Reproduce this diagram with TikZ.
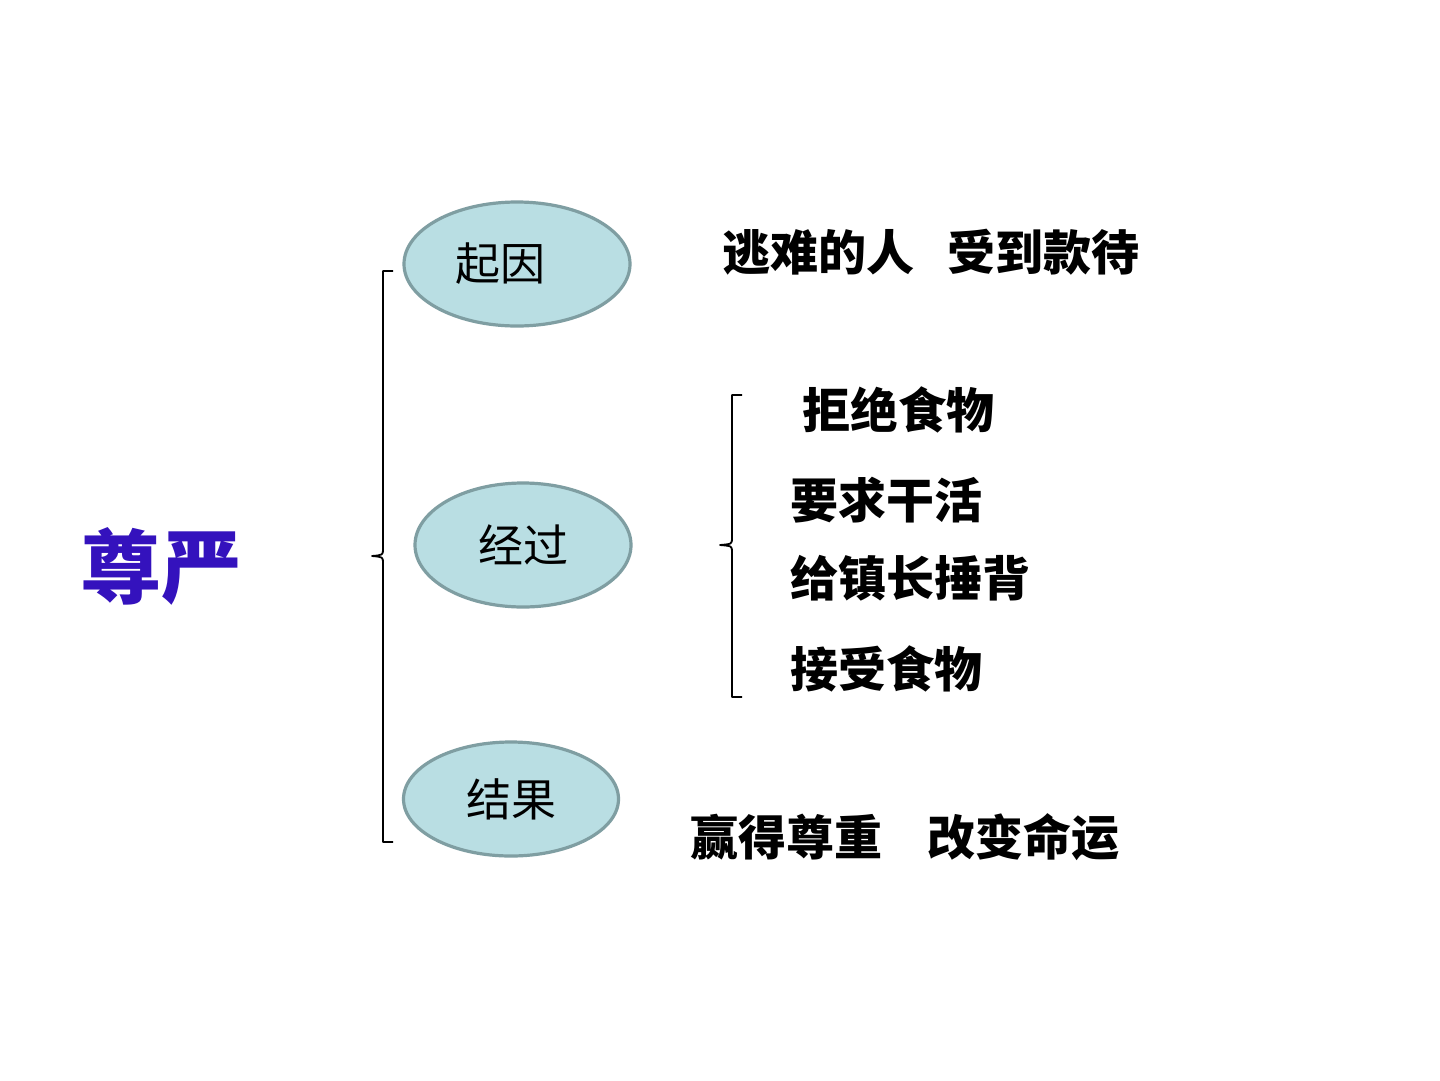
\documentclass[tikz,border=0pt]{standalone}
\usepackage{fontspec}
\usetikzlibrary{shapes.geometric}
\newfontfamily\cjk{Noto Sans CJK SC}
\definecolor{ellfill}{HTML}{B9DEE3}
\definecolor{elldraw}{HTML}{7F9EA2}
\definecolor{titleblue}{HTML}{3412BD}
\begin{document}
\begin{tikzpicture}[x=1pt,y=-1pt,
  phase/.style={ellipse,draw=elldraw,line width=3.2pt,fill=ellfill,inner sep=0pt,
     font=\cjk\fontsize{45}{50}\selectfont},
  item/.style={anchor=west,inner sep=0pt,font=\cjk\bfseries\fontsize{48}{54}\selectfont},
  bracket/.style={line width=1.8pt,line join=round}]
\useasboundingbox (0,0) rectangle (1440,1080);
\fill[white] (0,0) rectangle (1440,1080);
% title
\node[inner sep=0pt,text=titleblue,font=\cjk\bfseries\fontsize{81}{88}\selectfont] (title) at (161,566) {尊严};
% ellipses
\node[phase,minimum width=226pt,minimum height=124pt] (cause) at (517,264) {起因\hspace*{34pt}};
\node[phase,minimum width=216pt,minimum height=124pt] (proc) at (523,545) {经过};
\node[phase,minimum width=215pt,minimum height=114pt] (res) at (511,799) {结果};
% left brace
\coordinate (lb1) at (393,271);
\coordinate (lb2) at (393,842);
\coordinate (lbm) at (372,556);
\draw[bracket] (lb1) -- (383,271) -- (383,549) .. controls (383,555) .. (lbm)
   .. controls (383,557) .. (383,563) -- (383,842) -- (lb2);
% right brace
\coordinate (rb1) at (742,395);
\coordinate (rb2) at (742,697);
\coordinate (rbm) at (720,545);
\draw[bracket] (rb1) -- (732,395) -- (732,538) .. controls (732,544) .. (rbm)
   .. controls (732,546) .. (732,552) -- (732,697) -- (rb2);
% texts
\node[item] (t1) at (722,252) {逃难的人\hspace{33pt}受到款待};
\node[item] (t2) at (802,410) {拒绝食物};
\node[item] (t3) at (790,500) {要求干活};
\node[item] (t4) at (790,578) {给镇长捶背};
\node[item] (t5) at (790,669) {接受食物};
\node[item] (t6) at (690,837) {赢得尊重\hspace{45pt}改变命运};
\end{tikzpicture}
\end{document}
